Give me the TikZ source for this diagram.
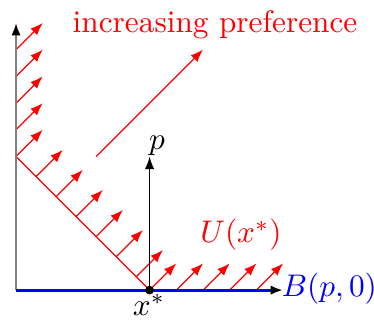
\documentclass[tikz,border=0pt]{standalone}
\usetikzlibrary{arrows.meta}
\begin{document}
\begin{tikzpicture}[x=0.3cm,y=0.3cm,
  redarrow/.style={red, line width=0.4pt, -{Latex[length=4pt,width=3pt]}},
  blacktip/.style={-{Latex[black,length=4pt,width=3pt]}},
  lab/.style={anchor=base, inner sep=0pt}]
\useasboundingbox (-0.6,-1.12) rectangle (13.4,10.86);
\coordinate (O) at (0,0);
\coordinate (xs) at (5,0);
\coordinate (ytop) at (0,10);
\coordinate (xend) at (10,0);
\coordinate (corner) at (0,5);
\coordinate (ptop) at (5,5);
\coordinate (ipA) at (3,5);
\coordinate (ipB) at (7,9);
% indifference line
\draw[red, line width=0.4pt] (corner) -- (xs);
% preference arrows
\foreach \i in {5,...,9} {\draw[redarrow] (0,\i) -- ++(1,1);}
\foreach \t in {0.75,1.5,2.25,3,3.75,4.5} {\draw[redarrow] (\t,5-\t) -- ++(1,1);}
\foreach \i in {5,...,9} {\draw[redarrow] (\i,0) -- ++(1,1);}
\draw[redarrow] (ipA) -- (ipB);
% axes
\draw[gray, line width=0.7pt, blacktip] (O) -- (ytop);
\draw[blue, line width=0.9pt, blacktip] (O) -- (xend);
% price vector
\draw[black, line width=0.4pt, -{Latex[length=4pt,width=3pt]}] (xs) -- (ptop);
\node[circle, fill=black, inner sep=0pt, minimum size=2.8pt] (dot) at (xs) {};
% labels
\node[lab, red] (inc) at (7.45,9.63) {increasing preference};
\node[lab] (plab) at (5.28,5.26) {$p$};
\node[lab] (xlab) at (4.98,-0.96) {$x^*$};
\node[lab, red] (ulab) at (8.42,1.77) {$U(x^*)$};
\node[blue, anchor=base west, inner sep=0pt] (blab) at (9.93,-0.25) {$B(p,0)$};
\end{tikzpicture}
\end{document}
